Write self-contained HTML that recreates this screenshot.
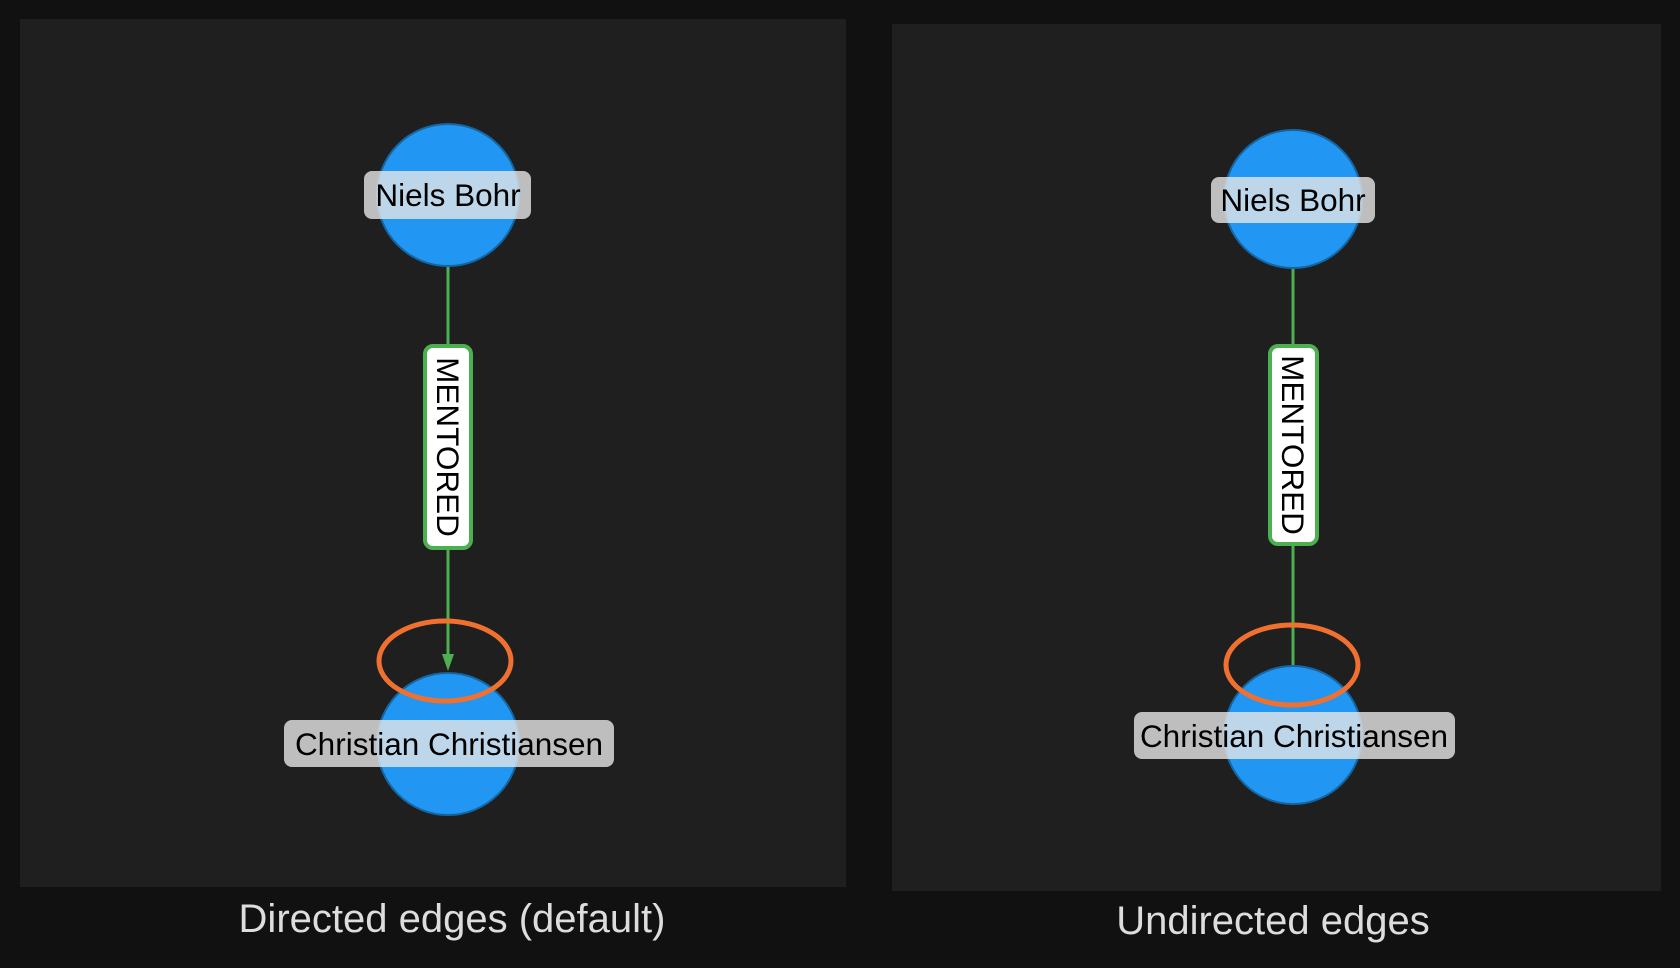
<!DOCTYPE html>
<html><head><style>
html,body{margin:0;padding:0;background:#111;}
svg{display:block}
</style></head><body>
<svg width="1680" height="968" viewBox="0 0 1680 968" xmlns="http://www.w3.org/2000/svg" font-family="Liberation Sans, sans-serif">
<rect width="1680" height="968" fill="#111"/>
<rect x="20" y="19" width="826" height="868" fill="#1f1f1f"/>
<rect x="892" y="24" width="769" height="867" fill="#1f1f1f"/>
<!-- left -->
<line x1="448" y1="266" x2="448" y2="662" stroke="#4caf50" stroke-width="3"/>
<polygon points="442,654 454,654 448,671" fill="#4caf50"/>
<circle cx="448" cy="195" r="71" fill="#2196f3" stroke="#1565a0" stroke-width="2"/>
<circle cx="448" cy="744" r="71" fill="#2196f3" stroke="#1565a0" stroke-width="2"/>
<rect x="364" y="171" width="167" height="48" rx="8" fill="#e6e6e6" fill-opacity="0.8"/>
<text x="448" y="206" font-size="31.5" text-anchor="middle" fill="#000">Niels Bohr</text>
<rect x="284" y="720" width="330" height="47" rx="8" fill="#e6e6e6" fill-opacity="0.8"/>
<text x="449" y="755" font-size="31.5" text-anchor="middle" fill="#000">Christian Christiansen</text>
<rect x="425" y="346" width="46" height="202" rx="8" fill="#fff" stroke="#4caf50" stroke-width="4"/>
<text transform="translate(437,447) rotate(90)" font-size="31.5" text-anchor="middle" fill="#000">MENTORED</text>
<ellipse cx="445" cy="661" rx="66" ry="40" fill="none" stroke="#f07030" stroke-width="5"/>
<text x="452" y="932" font-size="40" text-anchor="middle" fill="#ddd">Directed edges (default)</text>
<!-- right -->
<line x1="1293" y1="268" x2="1293" y2="666" stroke="#4caf50" stroke-width="3"/>
<circle cx="1293" cy="199" r="69" fill="#2196f3" stroke="#1565a0" stroke-width="2"/>
<circle cx="1293" cy="735" r="69" fill="#2196f3" stroke="#1565a0" stroke-width="2"/>
<rect x="1211" y="177" width="164" height="46" rx="8" fill="#e6e6e6" fill-opacity="0.8"/>
<text x="1293" y="211" font-size="31.5" text-anchor="middle" fill="#000">Niels Bohr</text>
<rect x="1134" y="712" width="321" height="47" rx="8" fill="#e6e6e6" fill-opacity="0.8"/>
<text x="1294" y="747" font-size="31.5" text-anchor="middle" fill="#000">Christian Christiansen</text>
<rect x="1270" y="346" width="47" height="198" rx="8" fill="#fff" stroke="#4caf50" stroke-width="4"/>
<text transform="translate(1282,445) rotate(90)" font-size="31.5" text-anchor="middle" fill="#000">MENTORED</text>
<ellipse cx="1292" cy="665" rx="66" ry="40" fill="none" stroke="#f07030" stroke-width="5"/>
<text x="1273" y="934" font-size="40" text-anchor="middle" fill="#ddd">Undirected edges</text>
</svg>
</body></html>
